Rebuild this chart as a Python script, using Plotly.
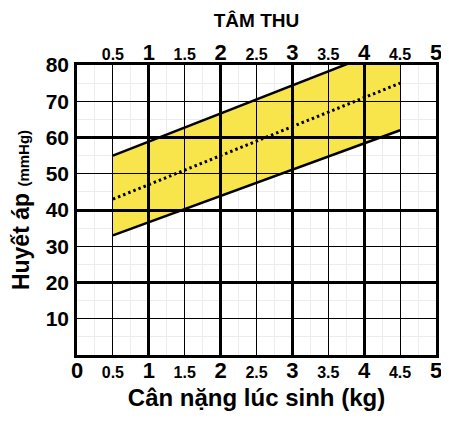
import plotly.graph_objects as go

# birth weight (kg) and the systolic band (mmHg)
weight = [0.5, 4.5]
upper = [55, 86]
mean = [43, 75]
lower = [33, 62]

x_ticks = [0, 0.5, 1, 1.5, 2, 2.5, 3, 3.5, 4, 4.5, 5]
y_ticks = [10, 20, 30, 40, 50, 60, 70, 80]

FONT = "Liberation Sans"
YELLOW = "#F8E44B"


def tick_label(v):
    if v == int(v):
        return str(int(v))
    return '<span style="font-size:16px">%s</span>' % v


x_text = [tick_label(v) for v in x_ticks]

fig = go.Figure()

# yellow band
fig.add_trace(go.Scatter(x=weight, y=lower, mode="lines",
                         line=dict(color="black", width=2.5),
                         showlegend=False, hoverinfo="skip"))
fig.add_trace(go.Scatter(x=weight, y=upper, mode="lines", fill="tonexty",
                         fillcolor=YELLOW, line=dict(color="black", width=2.5),
                         showlegend=False, hoverinfo="skip"))
fig.add_trace(go.Scatter(x=weight, y=mean, mode="lines",
                         line=dict(color="black", width=3, dash="2.5px,3px"),
                         showlegend=False, hoverinfo="skip"))

# empty traces so the grid subplot and the top axis exist
fig.add_trace(go.Scatter(x=[None], y=[None], xaxis="x2", yaxis="y2",
                         showlegend=False, hoverinfo="skip"))
fig.add_trace(go.Scatter(x=[None], y=[None], xaxis="x3", yaxis="y",
                         showlegend=False, hoverinfo="skip"))

faint = "#ececec"
# page body has an 8px margin, so the figure is sized to fit inside it
fig.update_layout(
    width=441, height=413,
    margin=dict(l=69, r=7, t=57, b=66),
    paper_bgcolor="white",
    plot_bgcolor="rgba(0,0,0,0)",
    font=dict(family=FONT, color="black"),
    xaxis=dict(
        domain=[0, 1], range=[0, 5], anchor="y",
        tickmode="array", tickvals=x_ticks, ticktext=x_text,
        tickfont=dict(size=22, family=FONT, weight="bold"),
        ticks="", showgrid=False, zeroline=False, showline=False,
        minor=dict(tickmode="linear", tick0=0, dtick=0.25, showgrid=True,
                   gridcolor=faint, gridwidth=1, ticks=""),
        title=dict(text="Cân nặng lúc sinh (kg)",
                   font=dict(size=24, family=FONT, weight="bold"), standoff=7),
    ),
    yaxis=dict(
        domain=[0, 1], range=[0, 80], anchor="x",
        tickmode="array", tickvals=y_ticks,
        tickfont=dict(size=21, family=FONT, weight="bold"),
        ticks="", showgrid=False, zeroline=False, showline=False,
        ticklabelstandoff=7,
        minor=dict(tickmode="linear", tick0=0, dtick=5, showgrid=True,
                   gridcolor=faint, gridwidth=1, ticks=""),
        title=dict(text='Huyết áp <span style="font-size:15px">(mmHg)</span>',
                   font=dict(size=23, family=FONT, weight="bold"), standoff=10),
    ),
    xaxis2=dict(
        domain=[0, 1], range=[0, 5], anchor="y2",
        tickmode="linear", tick0=0, dtick=1, showticklabels=False, ticks="",
        showgrid=True, gridcolor="black", gridwidth=2.5, zeroline=False,
        showline=True, mirror=True, linecolor="black", linewidth=2.5,
        minor=dict(tickmode="linear", tick0=0, dtick=0.5, showgrid=True,
                   gridcolor="black", gridwidth=1.2, ticks=""),
    ),
    yaxis2=dict(
        domain=[0, 1], range=[0, 80], anchor="x2",
        tickmode="linear", tick0=0, dtick=20, showticklabels=False, ticks="",
        showgrid=True, gridcolor="black", gridwidth=2.5, zeroline=False,
        showline=True, mirror=True, linecolor="black", linewidth=2.5,
        minor=dict(tickmode="linear", tick0=0, dtick=10, showgrid=True,
                   gridcolor="black", gridwidth=1.2, ticks=""),
    ),
    xaxis3=dict(
        overlaying="x", side="top", anchor="y", range=[0, 5],
        tickmode="array", tickvals=x_ticks[1:], ticktext=x_text[1:],
        tickfont=dict(size=22, family=FONT, weight="bold"),
        ticks="", showgrid=False, zeroline=False, showline=False,
        title=dict(text="TÂM THU",
                   font=dict(size=19, family=FONT, weight="bold"), standoff=6),
    ),
)

fig.write_html("out.html")
